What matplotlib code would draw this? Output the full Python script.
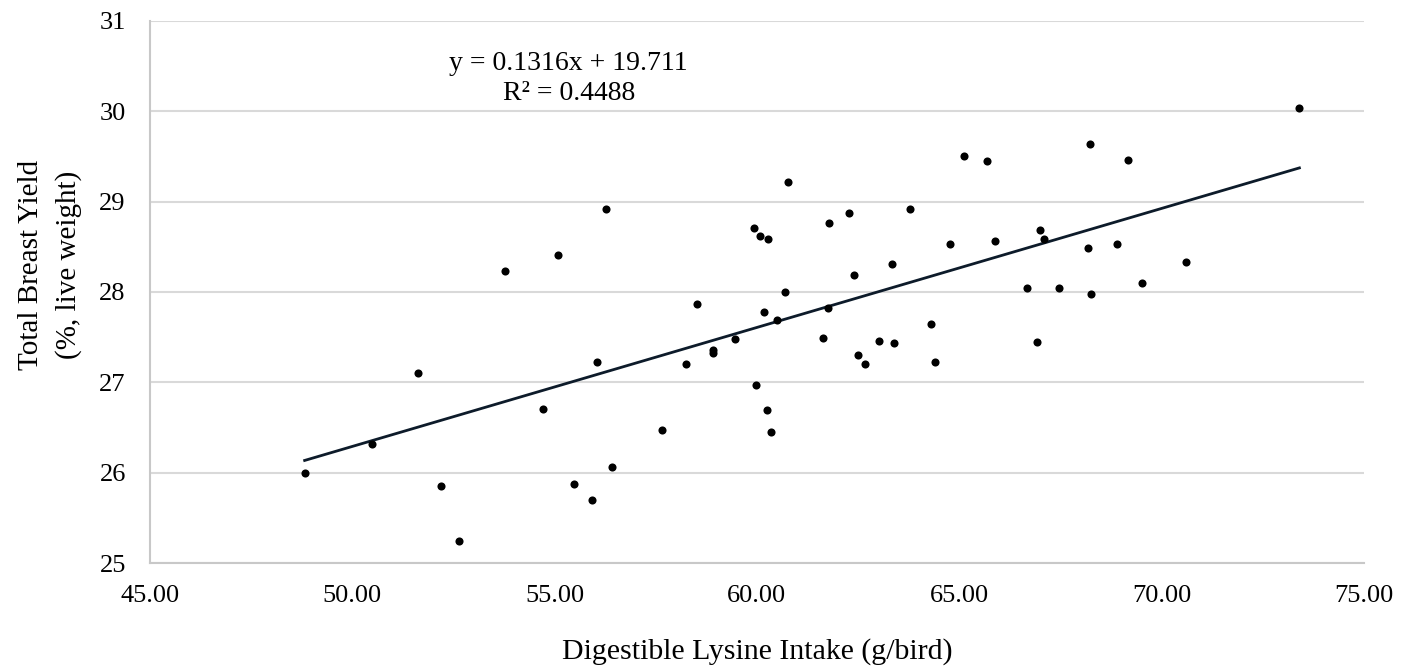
import matplotlib
matplotlib.use('Agg')
import matplotlib.pyplot as plt

# lysine intake (g/bird) vs total breast yield (% live weight)
lysine = [48.82, 50.49, 51.61, 52.19, 52.64, 53.77, 54.72, 55.09, 55.49, 55.93,
          56.05, 56.26, 56.41, 57.65, 58.24, 58.52, 58.92, 58.92, 59.47, 59.94,
          59.97, 60.08, 60.18, 60.24, 60.28, 60.34, 60.49, 60.69, 60.76, 61.63,
          61.76, 61.79, 62.27, 62.39, 62.51, 62.68, 63.01, 63.34, 63.39, 63.79,
          64.30, 64.40, 64.78, 65.11, 65.68, 65.89, 66.68, 66.92, 66.99, 67.10,
          67.47, 68.19, 68.24, 68.26, 68.90, 69.18, 69.52, 70.60, 73.41]
breast = [26.00, 26.32, 27.10, 25.85, 25.25, 28.23, 26.70, 28.41, 25.87, 25.70,
          27.22, 28.92, 26.06, 26.47, 27.20, 27.87, 27.36, 27.32, 27.48, 28.71,
          26.97, 28.62, 27.78, 26.69, 28.58, 26.45, 27.69, 28.00, 29.22, 27.49,
          27.82, 28.76, 28.87, 28.19, 27.30, 27.20, 27.46, 28.31, 27.43, 28.92,
          27.64, 27.22, 28.53, 29.50, 29.45, 28.56, 28.04, 27.45, 28.69, 28.59,
          28.04, 28.49, 29.64, 27.98, 28.53, 29.46, 28.10, 28.33, 30.03]

slope = 0.1316
intercept = 19.711
r2 = 0.4488

plt.rcParams['font.family'] = ['Liberation Serif', 'DejaVu Serif']

fig = plt.figure(figsize=(14.03, 6.68), dpi=100)
ax = fig.add_axes([0.107, 0.157, 0.865, 0.812])

ax.scatter(lysine, breast, s=34, color='black', zorder=3, linewidths=0)

xs = [min(lysine), max(lysine)]
ys = [slope * x + intercept for x in xs]
ax.plot(xs, ys, color='#0d1b2a', lw=2, zorder=2)

ax.text(55.35, 30.36, 'y = %.4fx + %.3f\nR² = %.4f' % (slope, intercept, r2),
        ha='center', va='center', fontsize=20, linespacing=1.3)

ax.set_xlim(45, 75)
ax.set_ylim(25, 31)
ax.set_xticks(range(45, 76, 5))
ax.set_xticklabels(['%.2f' % v for v in range(45, 76, 5)])
ax.set_yticks(range(25, 32))
ax.grid(axis='y', color='#d9d9d9', lw=1.5)
ax.set_axisbelow(True)
for s in ['top', 'right']:
    ax.spines[s].set_visible(False)
for s in ['left', 'bottom']:
    ax.spines[s].set_color('#c8c8c8')
    ax.spines[s].set_linewidth(1.5)
ax.tick_params(axis='x', length=0, labelsize=19, pad=16)
ax.tick_params(axis='y', length=0, labelsize=19, pad=17.5)

ax.set_xlabel('Digestible Lysine Intake (g/bird)', fontsize=21.5, labelpad=22)
ax.set_ylabel('Total Breast Yield\n(%, live weight)', fontsize=21,
              linespacing=1.55)
ax.yaxis.set_label_coords(-0.056, 0.55)

fig.savefig('out.png', dpi=100)
